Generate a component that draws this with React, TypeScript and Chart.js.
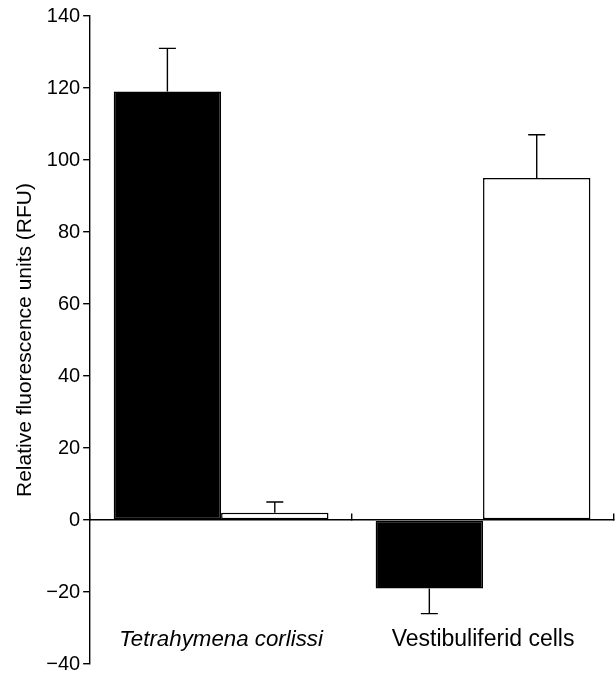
import React, { useEffect, useRef } from "react";
import { Chart, registerables } from "chart.js";

Chart.register(...registerables);

const categories = ["Tetrahymena corlissi", "Vestibuliferid cells"];
const blackValues = [119, -19];
const blackErrors = [12, 7];
const whiteValues = [2, 95];
const whiteErrors = [3, 12];
const yTicks = [-40, -20, 0, 20, 40, 60, 80, 100, 120, 140];

const FONT = "'Liberation Sans', Arial, Helvetica, sans-serif";

const errorBarPlugin = {
  id: "errorBars",
  afterDatasetsDraw(chart: any) {
    const ctx = chart.ctx;
    const yScale = chart.scales.y;
    chart.data.datasets.forEach((ds: any, di: number) => {
      const meta = chart.getDatasetMeta(di);
      meta.data.forEach((bar: any, i: number) => {
        const v = ds.data[i];
        const e = ds.errors[i];
        const end = v >= 0 ? v + e : v - e;
        const x = bar.x;
        const y0 = yScale.getPixelForValue(v);
        const y1 = yScale.getPixelForValue(end);
        ctx.save();
        ctx.strokeStyle = "#000";
        ctx.lineWidth = 1.4;
        ctx.beginPath();
        ctx.moveTo(x, y0);
        ctx.lineTo(x, y1);
        ctx.moveTo(x - 8.5, y1);
        ctx.lineTo(x + 8.5, y1);
        ctx.stroke();
        ctx.restore();
      });
    });
  },
};

export default function App() {
  const ref = useRef<HTMLCanvasElement | null>(null);
  useEffect(() => {
    document.body.style.margin = "0";
    const chart = new Chart(ref.current as HTMLCanvasElement, {
      type: "bar",
      data: {
        labels: categories,
        datasets: [
          {
            label: "A",
            data: blackValues,
            errors: blackErrors,
            backgroundColor: "#000",
            borderColor: "#000",
            borderWidth: 1.5,
            borderSkipped: false,
          } as any,
          {
            label: "B",
            data: whiteValues,
            errors: whiteErrors,
            backgroundColor: "#fff",
            borderColor: "#000",
            borderWidth: 1.5,
            borderSkipped: false,
          } as any,
        ],
      },
      plugins: [errorBarPlugin],
      options: {
        animation: false,
        responsive: false,
        layout: { padding: { top: 16, right: 2, bottom: 0, left: 13 } },
        plugins: { legend: { display: false }, tooltip: { enabled: false } },
        datasets: { bar: { categoryPercentage: 0.82, barPercentage: 1 } },
        scales: {
          x: {
            position: { y: 0 } as any,
            offset: true,
            grid: {
              display: true,
              offset: true,
              drawOnChartArea: false,
              drawTicks: true,
              tickLength: -7,
              color: "#000",
              lineWidth: 1.4,
            },
            border: { display: true, color: "#000", width: 1.4 },
            ticks: {
              color: "#000",
              padding: 113,
              maxRotation: 0,
              autoSkip: false,
              font: (c: any) => ({
                family: FONT,
                size: c.index === 0 ? 22.3 : 23,
                style: c.index === 0 ? "italic" : "normal",
              }),
            },
            afterFit: (scale: any) => {
              scale.height = 0;
              scale.paddingLeft = 0;
              scale.paddingRight = 0;
            },
          },
          y: {
            min: -40,
            max: 140,
            afterBuildTicks: (scale: any) => {
              scale.ticks = yTicks.map((v) => ({ value: v }));
            },
            afterFit: (scale: any) => {
              scale.paddingBottom = 9;
              scale.paddingTop = 16;
            },
            grid: {
              drawOnChartArea: false,
              drawTicks: true,
              tickLength: 7,
              color: "#000",
              lineWidth: 1.4,
            },
            border: { display: true, color: "#000", width: 1.4 },
            ticks: {
              color: "#000",
              padding: 3,
              font: { family: FONT, size: 20 },
              callback: (v: any) => String(v).replace("-", "\u2212"),
            },
            title: {
              display: true,
              text: "Relative fluorescence units (RFU)",
              color: "#000",
              font: { family: FONT, size: 21 },
              padding: { top: 0, bottom: 5 },
            },
          },
        },
      } as any,
    });
    return () => chart.destroy();
  }, []);
  return (
    <div style={{ width: 616, height: 673 }}>
      <canvas ref={ref} width={616} height={673} style={{ display: "block" }} />
    </div>
  );
}
